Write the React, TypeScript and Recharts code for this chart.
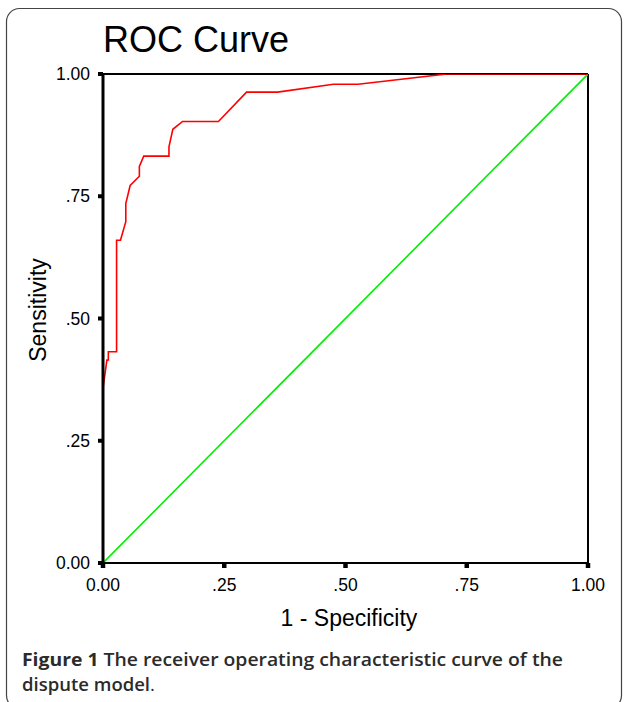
import React from 'react';
import { LineChart, Line, XAxis, YAxis, ReferenceLine } from 'recharts';

const fpr = [0, 0, 0.008, 0.011, 0.011, 0.028, 0.028, 0.036, 0.047, 0.047, 0.056, 0.075, 0.075, 0.084, 0.136, 0.136, 0.144, 0.164, 0.238, 0.296, 0.36, 0.475, 0.526, 0.709, 1];
const tpr = [0, 0.357, 0.415, 0.415, 0.432, 0.432, 0.66, 0.66, 0.698, 0.735, 0.772, 0.791, 0.811, 0.832, 0.832, 0.851, 0.887, 0.903, 0.903, 0.963, 0.963, 0.979, 0.979, 1, 1];
const refX = [0, 1];
const refY = [0, 1];
const tickValues = [0, 0.25, 0.5, 0.75, 1];
const tickLabels = ['0.00', '.25', '.50', '.75', '1.00'];

const rocData = fpr.map((x, i) => ({ x, roc: tpr[i] }));
const diagData = refX.map((x, i) => ({ x, diag: refY[i] }));

const fmt = (v: number) => {
  const i = tickValues.indexOf(v);
  return i >= 0 ? tickLabels[i] : String(v);
};

const FONT = '"Liberation Sans", Arial, Helvetica, sans-serif';
const tickStyle = { fill: '#000', fontSize: 17.5, fontFamily: FONT };

export default function App() {
  return (
    <div style={{ position: 'absolute', left: 0, top: 0, width: 624, height: 702, background: '#fff' }}>
      <svg width={624} height={702} style={{ position: 'absolute', left: 0, top: 0 }}>
        <rect x={6.5} y={8.5} width={615} height={700} rx={13} ry={13} fill="none" stroke="#444" strokeWidth={1.2} />
        <text x={103} y={52} fontFamily={FONT} fontSize={36} fill="#000">ROC Curve</text>
        <text x={349} y={626} fontFamily={FONT} fontSize={23} fill="#000" textAnchor="middle">1 - Specificity</text>
        <text x={46} y={310} fontFamily={FONT} fontSize={23} fill="#000" textAnchor="middle" transform="rotate(-90 46 310)">Sensitivity</text>
        <text x={22} y={666} fontFamily='"Open Sans", sans-serif' fontSize={18.5} fill="#2b2b2b" textLength={541} lengthAdjust="spacingAndGlyphs">
          <tspan fontWeight={700}>Figure 1</tspan>
          <tspan fontWeight={600}> The receiver operating characteristic curve of the</tspan>
        </text>
        <text x={22} y={691} fontFamily='"Open Sans", sans-serif' fontSize={18.5} fill="#2b2b2b">
          <tspan fontWeight={600}>dispute model</tspan>
          <tspan fontWeight={400}>.</tspan>
        </text>
      </svg>
      <div style={{ position: 'absolute', left: 0, top: 0 }}>
        <LineChart width={624} height={702} margin={{ top: 74, right: 36, bottom: 109, left: 43 }}>
          <ReferenceLine y={1} stroke="#000" strokeWidth={2} />
          <ReferenceLine x={1} stroke="#000" strokeWidth={2} />
          <Line data={diagData} dataKey="diag" stroke="#00ee00" strokeWidth={1.6} dot={false} isAnimationActive={false} />
          <Line data={rocData} dataKey="roc" stroke="#ff0000" strokeWidth={1.6} dot={false} isAnimationActive={false} />
          <XAxis
            dataKey="x"
            type="number"
            domain={[0, 1]}
            ticks={tickValues}
            tickFormatter={fmt}
            height={30}
            tick={tickStyle}
            tickSize={5}
            tickMargin={11}
            tickLine={{ stroke: '#000', strokeWidth: 4.5 }}
            axisLine={{ stroke: '#000', strokeWidth: 2 }}
            allowDataOverflow
          />
          <YAxis
            type="number"
            domain={[0, 1]}
            ticks={tickValues}
            tickFormatter={fmt}
            width={60}
            tick={tickStyle}
            tickSize={5}
            tickMargin={8}
            tickLine={{ stroke: '#000', strokeWidth: 4 }}
            axisLine={{ stroke: '#000', strokeWidth: 3 }}
            allowDataOverflow
          />
        </LineChart>
      </div>
    </div>
  );
}
